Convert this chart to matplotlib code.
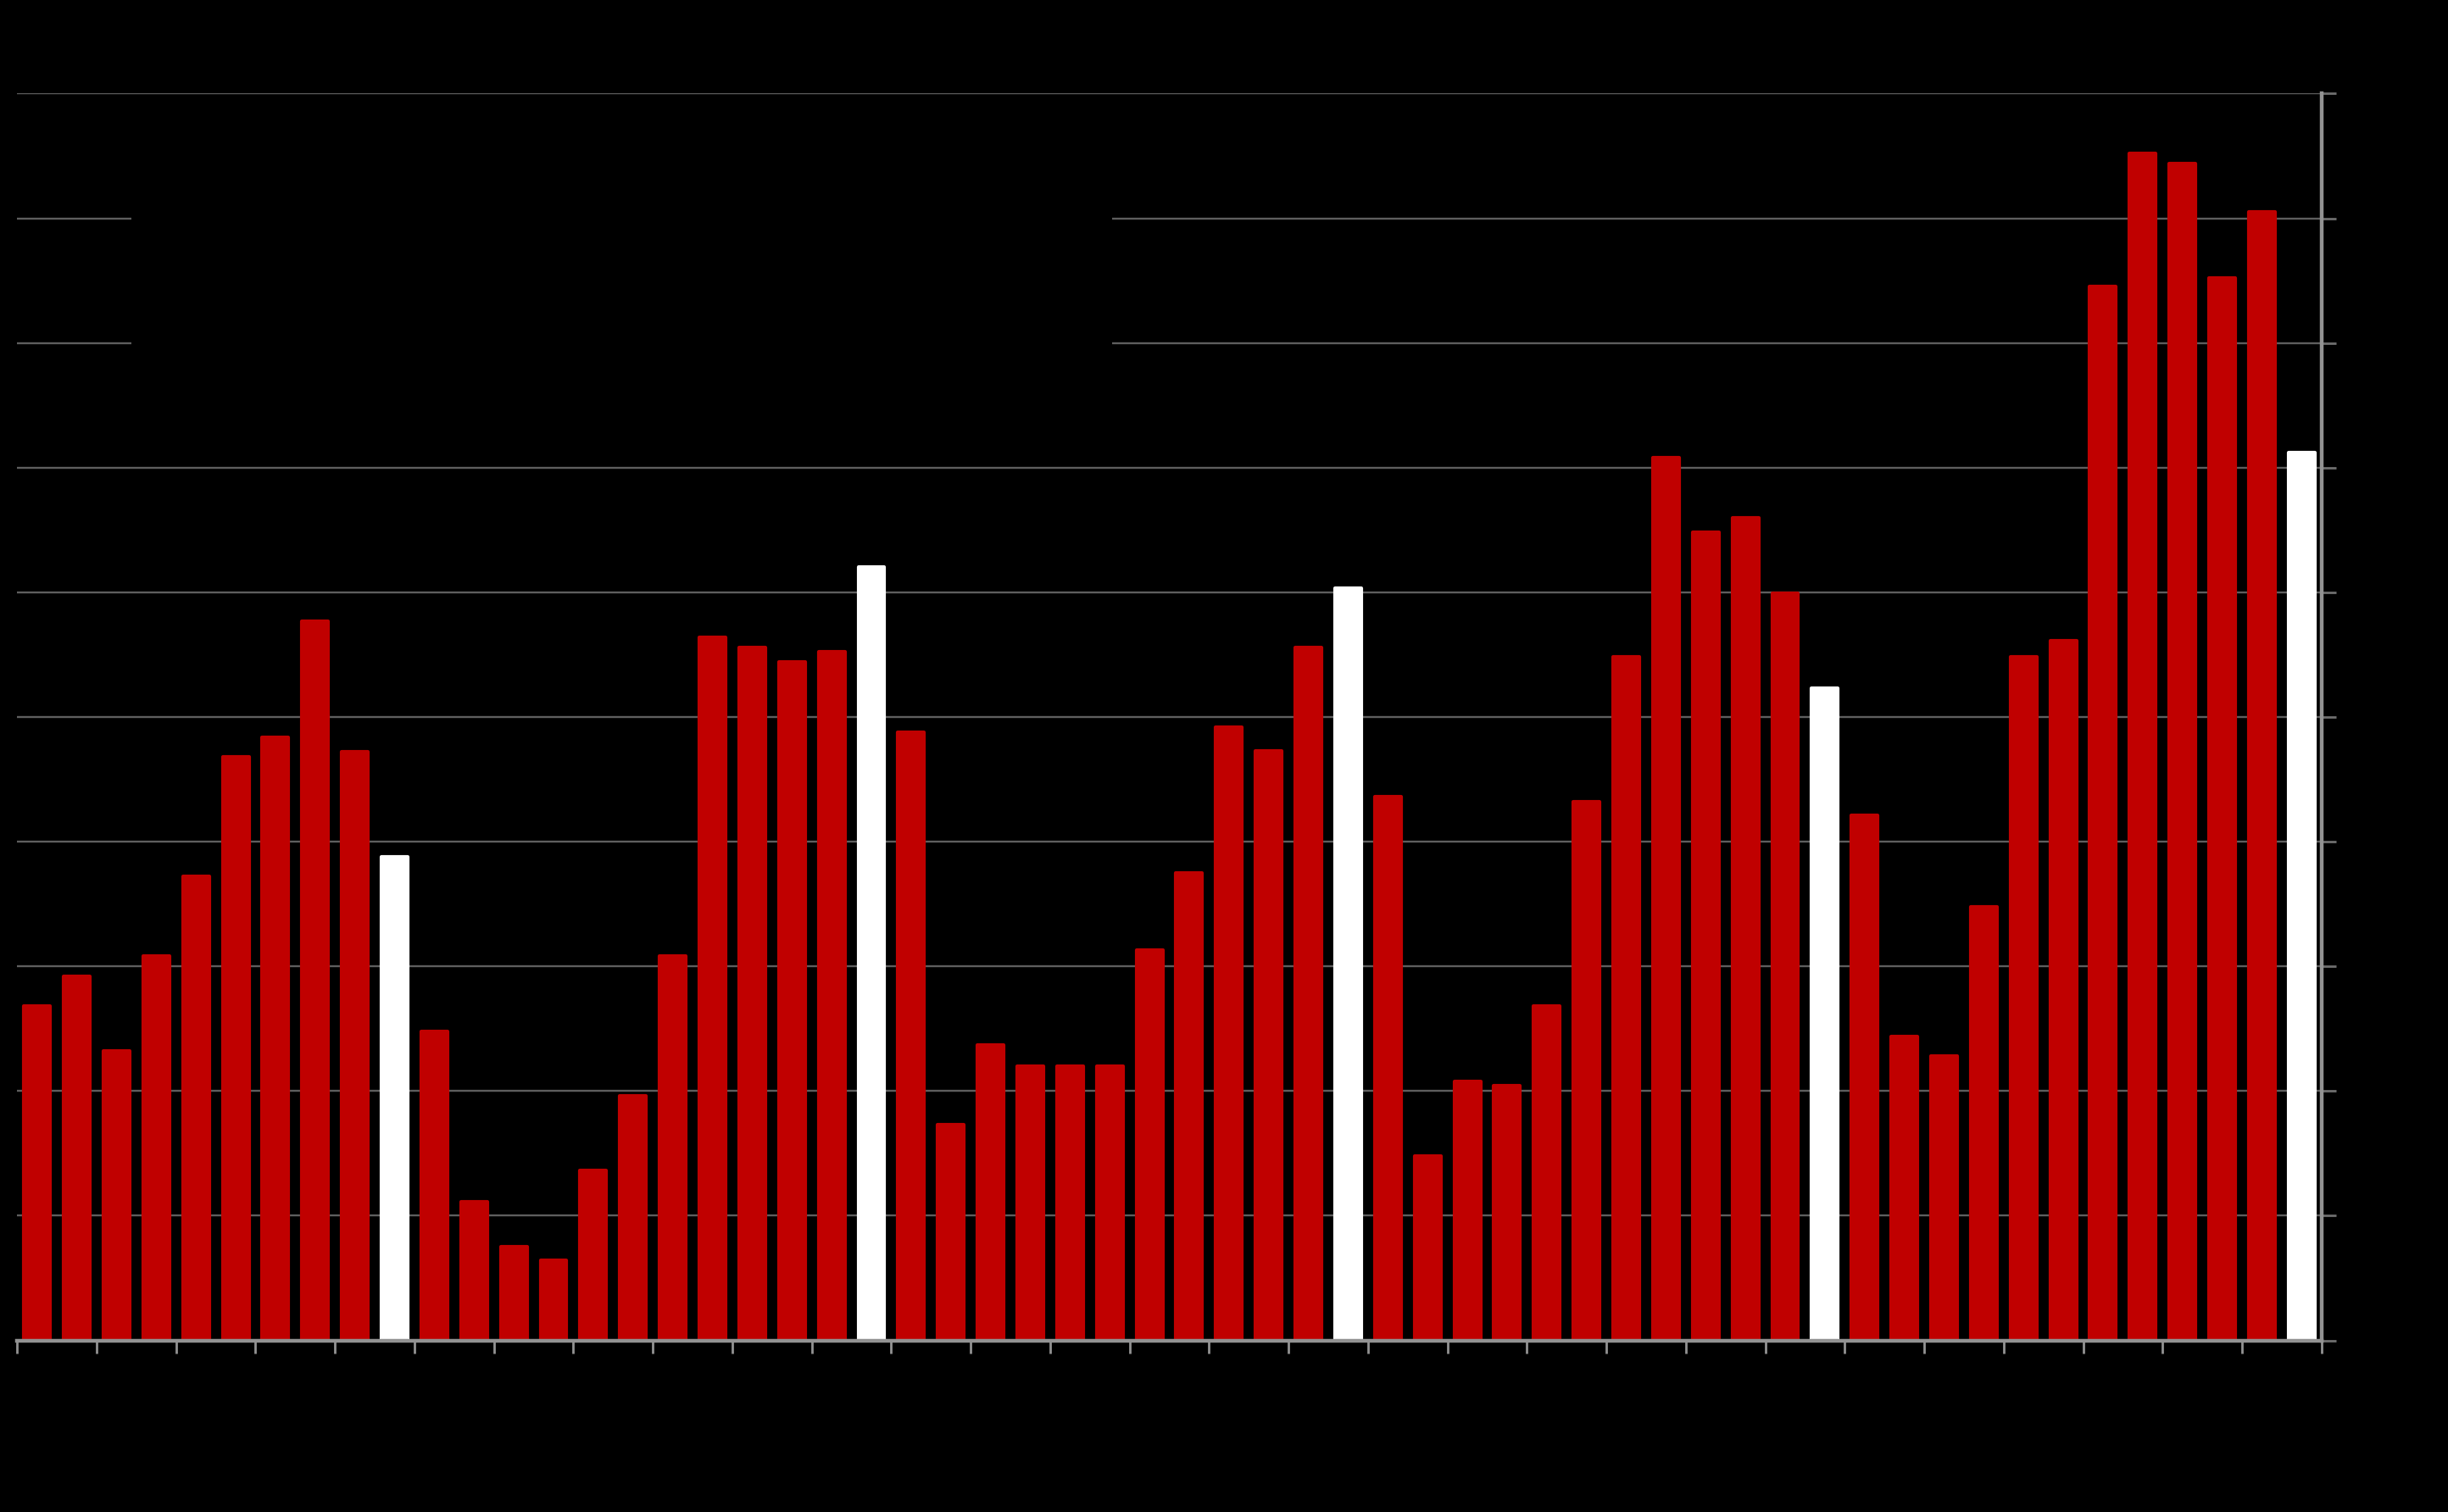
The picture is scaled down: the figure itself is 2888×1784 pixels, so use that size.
import numpy as np
import matplotlib
matplotlib.use("Agg")
import matplotlib.pyplot as plt
from matplotlib.patches import Rectangle

# bar heights, one per period (units = one gridline step)
values = [
    2.68, 2.92, 2.32, 3.08, 3.72, 4.68, 4.84, 5.77, 4.72, 3.88,
    2.48, 1.11, 0.75, 0.64, 1.36, 1.96, 3.08, 5.64, 5.56, 5.44,
    5.52, 6.20, 4.88, 1.73, 2.37, 2.20, 2.20, 2.20, 3.13, 3.75,
    4.92, 4.73, 5.56, 6.03, 4.36, 1.48, 2.08, 2.04, 2.68, 4.32,
    5.48, 7.08, 6.48, 6.60, 5.99, 5.23, 4.21, 2.44, 2.28, 3.48,
    5.48, 5.61, 8.45, 9.52, 9.44, 8.52, 9.05, 7.12,
]
# highlighted bars (drawn white)
highlight = [9, 21, 33, 45, 57]

RED = "#C00000"
WHITE = "#FFFFFF"
GRID = "#5E5E5E"
AXIS = "#929292"

fig = plt.figure(figsize=(28.88, 17.84), dpi=100, facecolor="black")
ax = fig.add_axes([0.00702, 0.1135, 0.9413, 0.8246])
ax.set_facecolor("black")

x = np.arange(len(values))
colors = [WHITE if i in highlight else RED for i in x]
bars = ax.bar(x, values, width=0.66, color=colors, edgecolor=colors,
              linewidth=3.0, zorder=2)
for b in bars:
    b.set_joinstyle("round")

ax.set_xlim(-0.5, len(values) - 0.5)
ax.set_ylim(0, 10)

# y axis on the right, gridlines at every unit
ax.yaxis.tick_right()
ax.set_yticks(np.arange(0, 11, 1))
ax.set_yticklabels([""] * 11)
ax.grid(axis="y", color=GRID, linewidth=1.7, zorder=0)
ax.set_axisbelow(True)

# x ticks every two periods at the boundaries
ax.set_xticks(np.arange(-0.5, len(values), 2))
ax.set_xticklabels([])
ax.tick_params(axis="x", direction="out", length=11, width=2.0, color=AXIS)
ax.tick_params(axis="y", direction="out", length=12, width=2.0, color="#6E6E6E")

for side in ["top", "left"]:
    ax.spines[side].set_visible(False)
ax.spines["right"].set_color(AXIS)
ax.spines["right"].set_linewidth(3.2)
ax.spines["bottom"].set_color(AXIS)
ax.spines["bottom"].set_linewidth(3.2)
ax.spines["bottom"].set_zorder(3)

# legend box (black on black)
ax.add_patch(Rectangle((0.0495, 0.76), 0.4255, 0.18, transform=ax.transAxes,
                       facecolor="black", edgecolor="none", zorder=1.5))

fig.savefig("out.png", dpi=100, facecolor="black")
